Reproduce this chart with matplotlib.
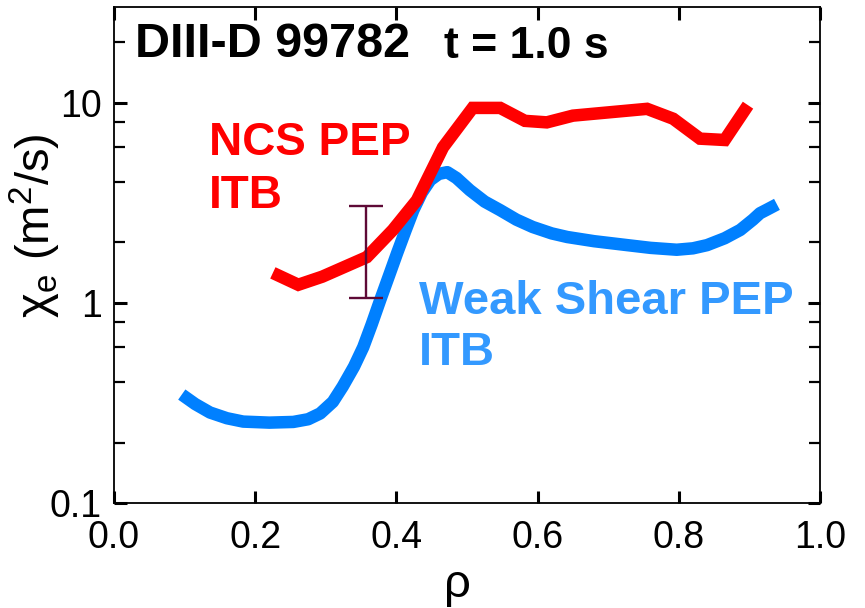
import numpy as np
import matplotlib
matplotlib.use("Agg")
import matplotlib.pyplot as plt
from matplotlib.ticker import LogLocator, FixedLocator, NullFormatter

plt.rcParams['font.family'] = ['Liberation Sans', 'DejaVu Sans']
plt.rcParams['mathtext.fontset'] = 'custom'
plt.rcParams['mathtext.rm'] = 'Liberation Sans'
plt.rcParams['mathtext.it'] = 'Liberation Sans:italic'

# NCS PEP ITB (red)
ncs_rho = [0.225, 0.261, 0.295, 0.358, 0.395, 0.429, 0.466, 0.508, 0.547,
           0.582, 0.613, 0.650, 0.755, 0.792, 0.830, 0.865, 0.898]
ncs_chi = [1.41, 1.23, 1.35, 1.69, 2.31, 3.25, 5.97, 9.4, 9.4,
           8.1, 7.96, 8.6, 9.3, 8.3, 6.6, 6.5, 9.7]

# Weak shear PEP ITB (blue)
ws_rho = [0.096, 0.115, 0.136, 0.160, 0.183, 0.220, 0.254, 0.275, 0.292,
          0.310, 0.324, 0.340, 0.353, 0.365, 0.377, 0.390, 0.401, 0.413,
          0.424, 0.436, 0.448, 0.460, 0.472, 0.485, 0.504, 0.525, 0.547,
          0.570, 0.593, 0.620, 0.642, 0.680, 0.727, 0.760, 0.797, 0.820,
          0.840, 0.865, 0.887, 0.905, 0.915, 0.925, 0.939]
ws_chi = [0.348, 0.312, 0.283, 0.265, 0.255, 0.252, 0.254, 0.262, 0.280,
          0.320, 0.382, 0.480, 0.600, 0.780, 1.03, 1.38, 1.77, 2.30,
          2.90, 3.55, 4.10, 4.40, 4.49, 4.20, 3.65, 3.20, 2.90,
          2.60, 2.39, 2.22, 2.13, 2.03, 1.94, 1.88, 1.84, 1.87,
          1.94, 2.10, 2.31, 2.60, 2.80, 2.92, 3.10]

# error bar
err_rho = 0.357
err_mid = 1.7
err_lo = 1.06
err_hi = 3.04

fig = plt.figure(figsize=(8.65, 6.08), dpi=100)
ax = fig.add_axes([0.1318, 0.1727, 0.948 - 0.1318, 0.9885 - 0.1727])

ax.plot(ncs_rho, ncs_chi, color='#ff0000', lw=9, solid_capstyle='butt',
        solid_joinstyle='miter', zorder=3)
ax.plot(ws_rho, ws_chi, color='#0080ff', lw=9, solid_capstyle='butt',
        solid_joinstyle='round', zorder=2)
ax.errorbar([err_rho], [err_mid],
            yerr=[[err_mid - err_lo], [err_hi - err_mid]],
            fmt='none', ecolor='#5e0a36', elinewidth=1.7, capsize=12,
            capthick=1.7, zorder=4)

ax.set_yscale('log')
ax.set_xlim(0.0, 1.0)
ax.set_ylim(0.1, 30)
ax.xaxis.set_major_locator(FixedLocator([0.0, 0.2, 0.4, 0.6, 0.8, 1.0]))
ax.set_xticklabels(['0.0', '0.2', '0.4', '0.6', '0.8', '1.0'])
ax.yaxis.set_major_locator(FixedLocator([0.1, 1, 10]))
ax.set_yticklabels(['0.1', '1', '10'])
ax.yaxis.set_minor_locator(LogLocator(base=10, subs=(2, 4, 6, 8)))
ax.yaxis.set_minor_formatter(NullFormatter())

ax.tick_params(which='both', direction='in', top=True, right=True,
               labelsize=27, colors='black')
ax.tick_params(which='major', length=9, width=2.2)
ax.tick_params(which='minor', length=8, width=1.6)
ax.tick_params(axis='x', pad=12)
ax.tick_params(axis='y', pad=9)
for s in ax.spines.values():
    s.set_linewidth(1.3)

ax.set_xlabel('ρ', fontsize=34)
ax.xaxis.set_label_coords(0.487, -0.12)
ax.set_ylabel(r'χ$_\mathrm{e}$ (m$^\mathrm{2}$/s)', fontsize=34)
ax.yaxis.set_label_coords(-0.072, 0.56)

ax.text(0.03, 0.97, 'DIII-D 99782', transform=ax.transAxes, fontsize=35,
        fontweight='bold', va='top', ha='left')
ax.text(0.468, 0.962, 't = 1.0 s', transform=ax.transAxes, fontsize=32,
        fontweight='bold', va='top', ha='left')
ax.text(0.135, 0.77, 'NCS PEP\nITB', transform=ax.transAxes, fontsize=33,
        fontweight='bold', color='#ff0000', va='top', ha='left',
        linespacing=1.25)
ax.text(0.432, 0.45, 'Weak Shear PEP\nITB', transform=ax.transAxes,
        fontsize=34, fontweight='bold', color='#3399ff', va='top',
        ha='left', linespacing=1.2)

fig.savefig('out.png', dpi=100)
